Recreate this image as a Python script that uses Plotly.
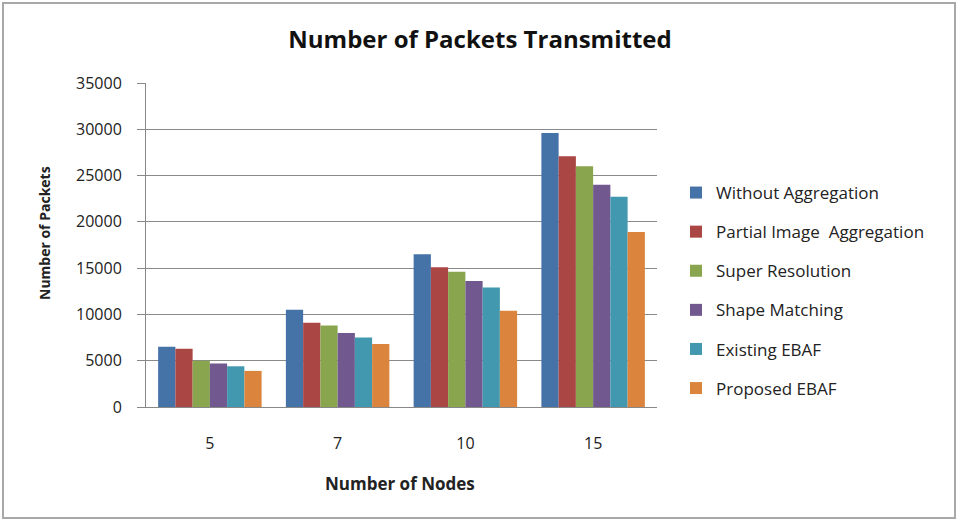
import plotly.graph_objects as go

nodes = ["5", "7", "10", "15"]
series_names = ["Without Aggregation", "Partial Image  Aggregation", "Super Resolution",
                "Shape Matching", "Existing EBAF", "Proposed EBAF"]
without_agg = [6500, 10500, 16500, 29600]
partial_img = [6300, 9100, 15100, 27100]
super_res = [5000, 8800, 14600, 26000]
shape_match = [4700, 8000, 13600, 24000]
existing_ebaf = [4400, 7500, 12900, 22700]
proposed_ebaf = [3900, 6800, 10400, 18900]
y_ticks = [0, 5000, 10000, 15000, 20000, 25000, 30000, 35000]
y_tick_text = [str(v) for v in y_ticks]

values = [without_agg, partial_img, super_res, shape_match, existing_ebaf, proposed_ebaf]
colors = ["#4572A7", "#AA4643", "#89A54E", "#71588F", "#4198AF", "#DB843D"]

W, H = 960, 522
L, R, T, B = 146, 657, 83, 407

fig = go.Figure()
for i, (name, vals, col) in enumerate(zip(series_names, values, colors)):
    fig.add_trace(go.Bar(x=nodes, y=vals, name=name, marker_color=col,
                         marker_line_width=0, legendgroup=f"g{i}"))

font_fam = "Open Sans, Lato, sans-serif"

def px(x):
    return (x - L) / (R - L)

def py(y):
    return (B - y) / (B - T)

fig.update_layout(
    width=W, height=H,
    margin=dict(l=L, r=W - R, t=T, b=H - B),
    paper_bgcolor="white", plot_bgcolor="white",
    barmode="group", bargap=0.19, bargroupgap=0,
    showlegend=True,
    title=dict(text="<b>Number of Packets Transmitted</b>", x=0.5, xanchor="center",
               y=1 - 40 / H, yanchor="middle",
               font=dict(family=font_fam, size=24, color="#111")),
    legend=dict(x=px(676), y=py(175), xanchor="left", yanchor="top",
                font=dict(family=font_fam, size=17, color="#222"),
                tracegroupgap=14, itemwidth=30, bgcolor="rgba(0,0,0,0)",
                traceorder="grouped"),
    font=dict(family=font_fam, size=13, color="#222"),
    xaxis=dict(showline=True, linecolor="#888", linewidth=1,
               ticks="", tickfont=dict(size=16, color="#222"),
               ticklabelstandoff=22),
    yaxis=dict(range=[0, 35000], tickvals=y_ticks, ticktext=y_tick_text,
               showgrid=True, gridcolor="#8a8a8a",
               gridwidth=1, showline=True, linecolor="#888", linewidth=1,
               ticks="outside", ticklen=8, tickcolor="#888",
               tickfont=dict(size=16, color="#222"), zeroline=False,
               ticklabelstandoff=12),
    annotations=[
        dict(text="<b>Number of Nodes</b>", xref="paper", yref="paper",
             x=px(400), y=py(483), xanchor="center", yanchor="middle",
             showarrow=False, font=dict(family=font_fam, size=17, color="#222")),
        dict(text="<b>Number of Packets</b>", xref="paper", yref="paper",
             x=px(45), y=py(233), xanchor="center", yanchor="middle", textangle=-90,
             showarrow=False, font=dict(family=font_fam, size=14, color="#222")),
    ],
    shapes=[dict(type="rect", xref="paper", yref="paper",
                 x0=px(3), x1=px(955), y0=py(518), y1=py(3),
                 line=dict(color="#a8a8a8", width=2), layer="below")],
)

fig.write_html("out.html")
